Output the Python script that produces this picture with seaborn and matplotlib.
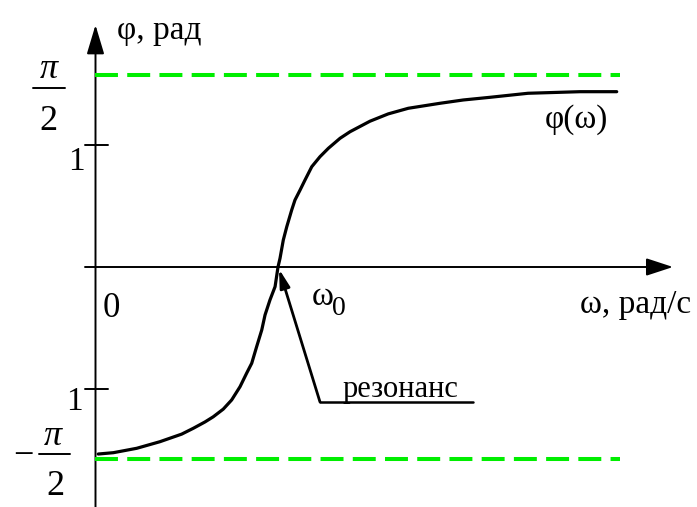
import numpy as np
import matplotlib
matplotlib.use("Agg")
import matplotlib.pyplot as plt
import seaborn as sns
from matplotlib.patches import FancyArrowPatch, ArrowStyle

sns.set_theme(style="white")
plt.rcParams["font.family"] = ["Liberation Serif", "DejaVu Serif"]
plt.rcParams["text.color"] = "black"

# --- data (omega in units of omega_0, phi in rad)
omega = [0.015, 0.098, 0.226, 0.353, 0.472, 0.536, 0.600, 0.645, 0.700, 0.746,
         0.792, 0.828, 0.856, 0.883, 0.911, 0.929, 0.956, 0.984, 1.0, 1.011,
         1.029, 1.048, 1.075, 1.093, 1.121, 1.148, 1.185, 1.230, 1.276, 1.340,
         1.395, 1.504, 1.604, 1.714, 1.888, 2.015, 2.162, 2.370, 2.655, 2.856]
phi = [-1.533, -1.522, -1.486, -1.432, -1.370, -1.322, -1.270, -1.228, -1.165, -1.090,
       -0.981, -0.871, -0.789, -0.653, -0.516, -0.393, -0.270, -0.161, 0.0, 0.071,
       0.221, 0.330, 0.467, 0.549, 0.631, 0.713, 0.822, 0.904, 0.973, 1.055,
       1.109, 1.195, 1.255, 1.301, 1.342, 1.369, 1.391, 1.424, 1.437, 1.437]
asym_x = [0.0, 2.874]
asym_levels = [np.pi / 2, -np.pi / 2]
tick_levels = [1, -1]


# pixel -> data helpers (axes fill the whole figure)
def wx(px):
    return (px - 95.5) / 182.5


def wy(py):
    return (267 - py) / 122


fig = plt.figure(figsize=(6.97, 5.07), dpi=100)
ax = fig.add_axes([0, 0, 1, 1])
ax.set_xlim(wx(0), wx(697))
ax.set_ylim(wy(507), wy(0))
ax.axis("off")

# asymptotes +-pi/2
for lev in asym_levels:
    sns.lineplot(x=asym_x, y=[lev, lev], ax=ax, color="#00ee00", lw=2.9,
                 dashes=False, linestyle=(0, (5.7, 2.3)))

# phase curve
sns.lineplot(x=omega, y=phi, ax=ax, color="black", lw=2.3, sort=False,
             estimator=None)


def arrow(p0, p1, hl, hw, lw):
    ax.add_patch(FancyArrowPatch(p0, p1, mutation_scale=1, color="black",
                                 lw=lw, shrinkA=0, shrinkB=0,
                                 arrowstyle=ArrowStyle("-|>", head_length=hl,
                                                       head_width=hw)))


# axes with arrows
arrow((0, wy(507)), (0, wy(25)), 18, 5.4, 1.4)
arrow((wx(85), 0), (wx(673), 0), 16.5, 5.4, 1.4)
for t in tick_levels:
    ax.plot([wx(85), wx(108)], [t, t], color="black", lw=1.4)

# resonance pointer
arrow((wx(320), wy(402)), (wx(279), wy(269)), 11, 3.0, 2.0)
ax.plot([wx(320), wx(473)], [wy(402), wy(402)], color="black", lw=1.8)

fs = 24
ax.text(wx(117), wy(39), "φ, рад", fontsize=fs, va="baseline", ha="left")
ax.text(wx(580), wy(313), "ω, рад/с", fontsize=fs, va="baseline", ha="left")
ax.text(wx(545), wy(128), "φ(ω)", fontsize=fs, va="baseline", ha="left")
ax.text(wx(312), wy(305), "ω", fontsize=fs, va="baseline", ha="left")
ax.text(wx(332), wy(315), "0", fontsize=20, va="baseline", ha="left")
ax.text(wx(111), wy(317), "0", fontsize=25, va="baseline", ha="center")
ax.text(wx(343), wy(397), "резонанс", fontsize=22, va="baseline", ha="left")
ax.text(wx(76), wy(170), "1", fontsize=fs, va="baseline", ha="center")
ax.text(wx(74), wy(410), "1", fontsize=fs, va="baseline", ha="center")

# fractions pi/2 and -pi/2
ax.text(wx(49), wy(78), "π", fontsize=26, style="italic", va="baseline", ha="center")
ax.plot([wx(33), wx(65)], [wy(88), wy(88)], color="black", lw=1.4)
ax.text(wx(48), wy(130), "2", fontsize=26, va="baseline", ha="center")

ax.text(wx(23), wy(465), "−", fontsize=26, va="baseline", ha="center")
ax.text(wx(53), wy(445), "π", fontsize=26, style="italic", va="baseline", ha="center")
ax.plot([wx(39), wx(70)], [wy(454), wy(454)], color="black", lw=1.4)
ax.text(wx(55), wy(495), "2", fontsize=26, va="baseline", ha="center")

fig.savefig("out.png", dpi=100)
